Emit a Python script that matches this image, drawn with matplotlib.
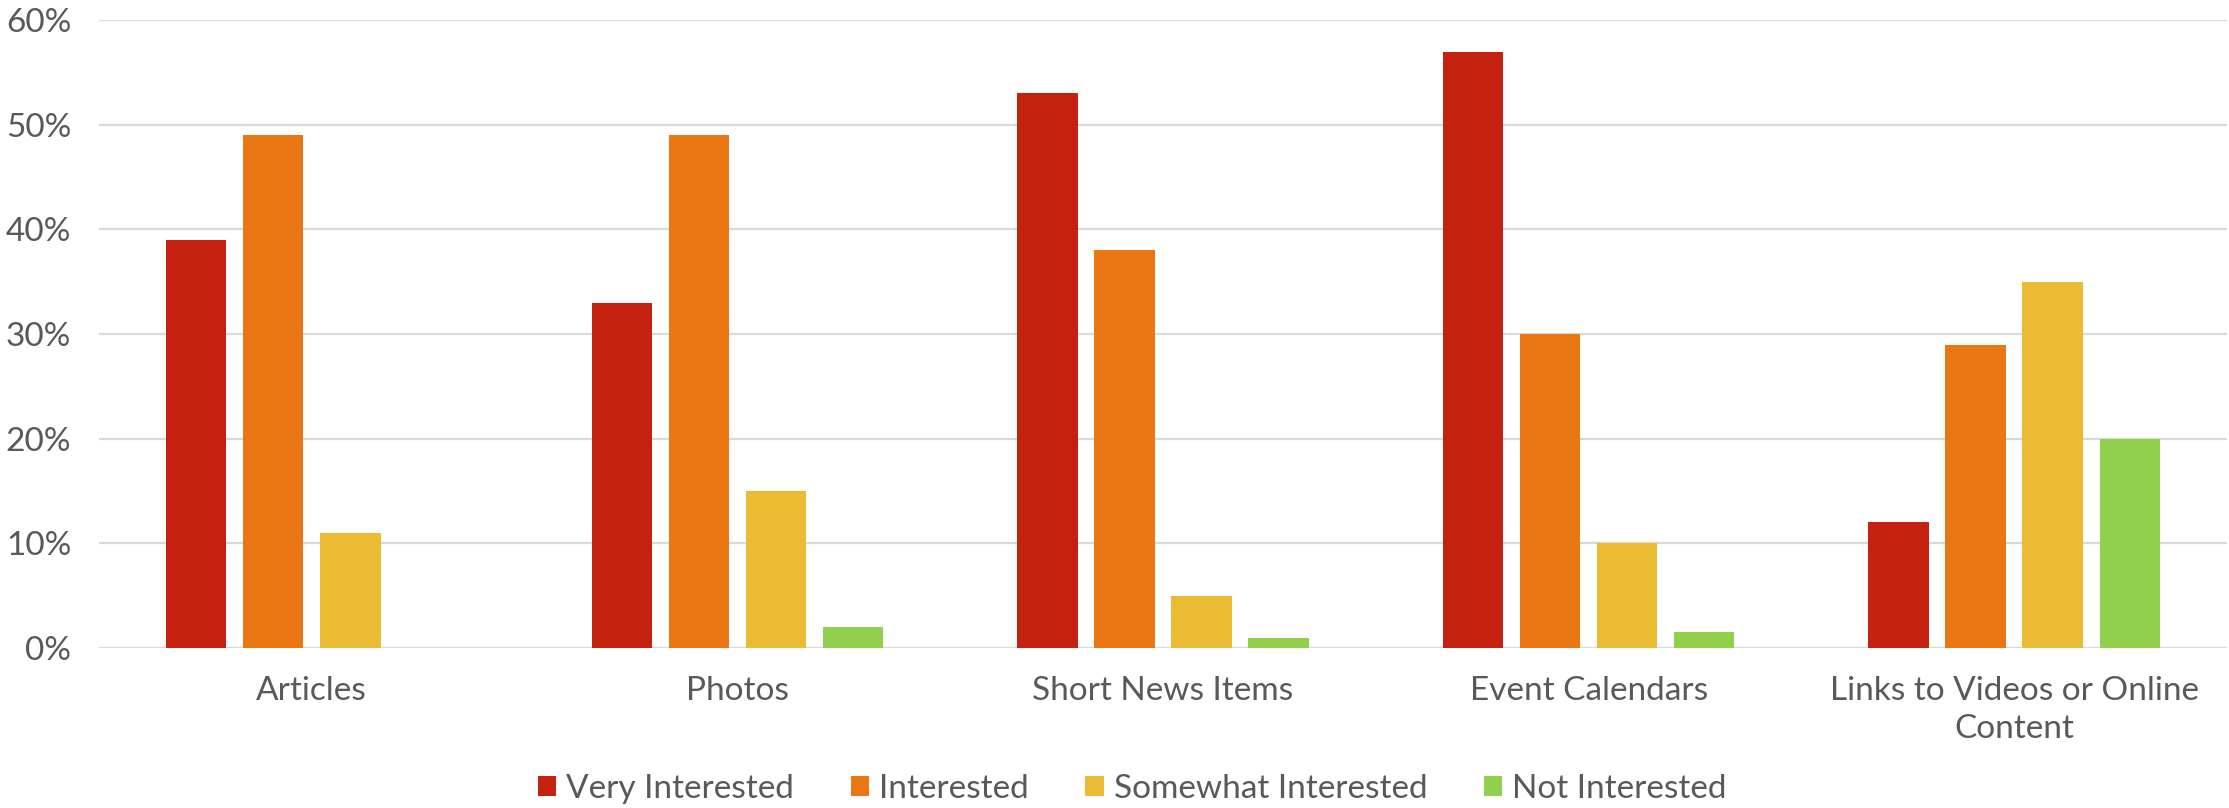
import numpy as np
import matplotlib.pyplot as plt
from matplotlib.ticker import PercentFormatter

categories = ['Articles', 'Photos', 'Short News Items', 'Event Calendars',
              'Links to Videos or Online\nContent']
series = ['Very Interested', 'Interested', 'Somewhat Interested', 'Not Interested']
very_interested = [39, 33, 53, 57, 12]
interested = [49, 49, 38, 30, 29]
somewhat_interested = [11, 15, 5, 10, 35]
not_interested = [0, 2, 1, 1.5, 20]
colors = ['#C4210E', '#EB7614', '#EBBC33', '#92CF4C']

plt.rcParams['font.family'] = ['Lato', 'DejaVu Sans']
txt = '#595959'

fig = plt.figure(figsize=(22.29, 8.08), dpi=100)
ax = fig.add_axes([0.0444, 0.198, 0.9547, 0.777])

x = np.arange(len(categories))
width = 0.142
step = 0.181
data = [very_interested, interested, somewhat_interested, not_interested]
for i, (vals, name) in enumerate(zip(data, series)):
    ax.bar(x + (i - 1.5) * step, vals, width, color=colors[i], label=name, zorder=3)

ax.set_xlim(-0.5, len(categories) - 0.5)
ax.set_ylim(0, 60)
ax.set_yticks(np.arange(0, 61, 10))
ax.yaxis.set_major_formatter(PercentFormatter(decimals=0))
ax.grid(axis='y', color='#D9D9D9', linewidth=1.6, zorder=0)
for s in ax.spines.values():
    s.set_visible(False)
ax.tick_params(axis='both', length=0, labelsize=24, labelcolor=txt)
ax.tick_params(axis='y', pad=20)
ax.tick_params(axis='x', pad=20)
ax.set_xticks(x)
ax.set_xticklabels(categories, linespacing=1.35)

fig.legend(loc='center', bbox_to_anchor=(0.508, 0.024), ncol=4, frameon=False,
           fontsize=24, labelcolor=txt, handlelength=0.55, handleheight=0.55,
           handletextpad=0.3, columnspacing=1.7)

fig.savefig('out.png', dpi=100)
